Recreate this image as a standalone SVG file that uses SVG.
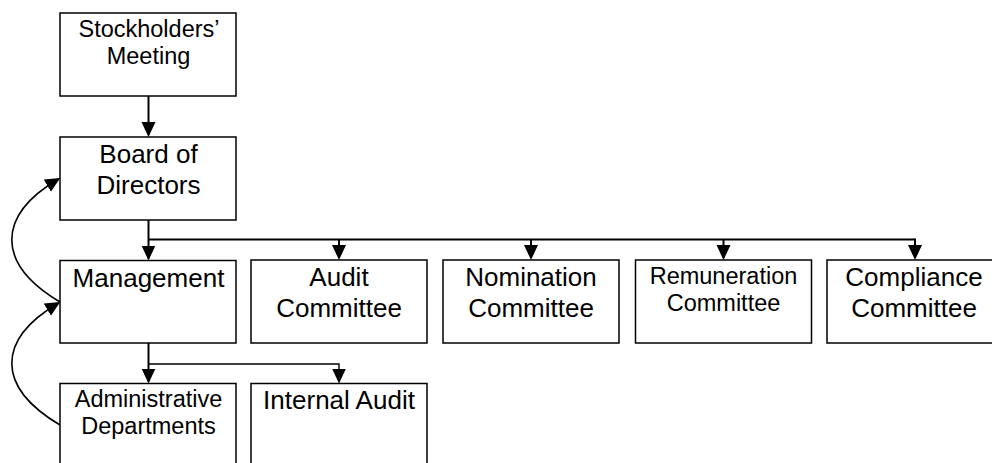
<svg xmlns="http://www.w3.org/2000/svg" width="992" height="463" viewBox="0 0 992 463">
  <style>
    .box { fill: #ffffff; stroke: #000000; stroke-width: 1.5; }
    .lbl { font-family: "Liberation Sans", Arial, sans-serif; fill: #000000; text-anchor: middle; }
    .big { font-size: 26px; }
    .small { font-size: 23.5px; }
    .wire { fill: none; stroke: #000000; stroke-width: 2; }
    .thin { fill: none; stroke: #000000; stroke-width: 1.4; }
    .loop { fill: none; stroke: #000000; stroke-width: 1.6; }
  </style>
  <defs>
    <marker id="head" markerUnits="userSpaceOnUse" markerWidth="16" markerHeight="16" refX="13" refY="7" orient="auto">
      <path d="M0,0 L15,7 L0,14 Z" fill="#000000"/>
    </marker>
  </defs>

  <rect width="992" height="463" fill="#ffffff"/>

  <!-- connectors -->
  <g id="connectors">
    <path class="wire" d="M148.5,96 V135" marker-end="url(#head)"/>
    <path class="wire" d="M148.5,220 V258.5" marker-end="url(#head)"/>
    <path class="wire" d="M148.5,239.5 H915"/>
    <path class="wire" d="M339,239.5 V258" marker-end="url(#head)"/>
    <path class="wire" d="M531,239.5 V258" marker-end="url(#head)"/>
    <path class="wire" d="M723.5,239.5 V258" marker-end="url(#head)"/>
    <path class="wire" d="M915,238.5 V258" marker-end="url(#head)"/>
    <path class="wire" d="M148.5,343 V381.5" marker-end="url(#head)"/>
    <path class="thin" d="M148.5,364 H339 V381.5" marker-end="url(#head)"/>
    <!-- feedback loops on the left -->
    <path class="loop" d="M60,302 C -4,264 -4,216 58.5,179" marker-end="url(#head)"/>
    <path class="loop" d="M60,425 C -4,387 -4,340 58.5,303" marker-end="url(#head)"/>
  </g>

  <g id="stockholders">
    <rect class="box" x="60" y="13" width="176" height="83"/>
    <text class="lbl small" x="149" y="37">Stockholders’</text>
    <text class="lbl small" x="148.5" y="63.5">Meeting</text>
  </g>

  <g id="board">
    <rect class="box" x="60" y="137" width="176" height="83"/>
    <text class="lbl big" x="148.5" y="162.5">Board of</text>
    <text class="lbl big" x="148.5" y="194">Directors</text>
  </g>

  <g id="management">
    <rect class="box" x="60" y="260.5" width="176" height="82.5"/>
    <text class="lbl big" x="148.5" y="286.5">Management</text>
  </g>

  <g id="audit-committee">
    <rect class="box" x="251" y="260" width="176" height="83"/>
    <text class="lbl big" x="339" y="285.5">Audit</text>
    <text class="lbl big" x="339" y="317">Committee</text>
  </g>

  <g id="nomination-committee">
    <rect class="box" x="443" y="260" width="176" height="83"/>
    <text class="lbl big" x="531" y="285.5">Nomination</text>
    <text class="lbl big" x="531" y="317">Committee</text>
  </g>

  <g id="remuneration-committee">
    <rect class="box" x="635.5" y="260" width="176" height="83"/>
    <text class="lbl small" x="723.5" y="283.5">Remuneration</text>
    <text class="lbl small" x="723.5" y="310.5">Committee</text>
  </g>

  <g id="compliance-committee">
    <rect class="box" x="827" y="260" width="176" height="83"/>
    <text class="lbl big" x="914" y="285.5">Compliance</text>
    <text class="lbl big" x="914" y="317">Committee</text>
  </g>

  <g id="administrative-departments">
    <rect class="box" x="60" y="383.5" width="176" height="90"/>
    <text class="lbl small" x="148.5" y="406.5">Administrative</text>
    <text class="lbl small" x="148.5" y="433.5">Departments</text>
  </g>

  <g id="internal-audit">
    <rect class="box" x="251" y="383.5" width="176" height="90"/>
    <text class="lbl big" x="339" y="409">Internal Audit</text>
  </g>
</svg>
